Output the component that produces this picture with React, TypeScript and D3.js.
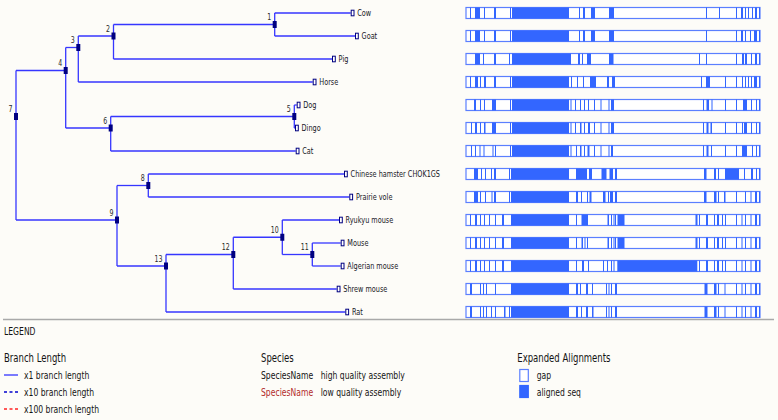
import React from 'react';
import * as d3 from 'd3';

// ---------- DATA ----------
// tree edges: [nodeId, parentId, branchLength]; internal nodes are "n#" (the number shown)
const treeEdges: [string, string | null, number][] = [
  ['n7', null, 0],
  ['n4', 'n7', 49.7],
  ['n3', 'n4', 12.6],
  ['n2', 'n3', 35.2],
  ['n1', 'n2', 161.2],
  ['Cow', 'n1', 76],
  ['Goat', 'n1', 80.3],
  ['Pig', 'n2', 218.5],
  ['Horse', 'n3', 234.4],
  ['n6', 'n4', 45],
  ['n5', 'n6', 183.6],
  ['Dog', 'n5', 2.4],
  ['Dingo', 'n5', 0.7],
  ['Cat', 'n6', 185],
  ['n9', 'n7', 101],
  ['n8', 'n9', 31.3],
  ['Chinese hamster CHOK1GS', 'n8', 195.7],
  ['Prairie vole', 'n8', 201],
  ['n13', 'n9', 49],
  ['n12', 'n13', 67.3],
  ['n10', 'n12', 49],
  ['Ryukyu mouse', 'n10', 56.7],
  ['n11', 'n10', 30],
  ['Mouse', 'n11', 28.4],
  ['Algerian mouse', 'n11', 28.4],
  ['Shrew mouse', 'n12', 103.4],
  ['Rat', 'n13', 179.3],
];

// aligned (filled) segments per species, in alignment columns 0..294, leaf order
const alignedSegments: number[][][] = [
  // Cow
  [[4,5],[9,14],[18,19],[28,30],[44,45],[46,103],[113,114],[117,119],[125,129],[143,148],[240,241],[253,254],[270,271],[275,277],[279,280],[282,283],[286,287],[289,291],[293,294]],
  // Goat
  [[4,5],[9,14],[18,19],[28,30],[44,45],[46,103],[113,114],[117,119],[125,129],[143,148],[240,241],[270,271],[275,277],[279,280],[284,285],[288,291],[293,294]],
  // Pig
  [[9,14],[17,18],[28,30],[43,44],[46,105],[112,114],[116,117],[121,125],[143,147.5],[233,234],[240,241],[270,271],[276,278],[279,281],[285,286],[289,291],[293,294]],
  // Horse
  [[4,5],[9,12],[14,15],[18,20],[28,30],[44,45],[46,103],[105,106],[111,112],[117,118],[124,130],[141,143],[146,149],[235,236],[240,244],[259,260],[270,271],[276,277],[279,280],[282,283],[285,286],[288,291],[293,294]],
  // Dog
  [[8,10],[14,15],[18,19],[26,30],[44,45],[46,103],[104.5,105.5],[109,110],[114,115],[118,119],[122,123],[128,129],[134.5,135.5],[142.5,143.5],[145,148],[237,238],[240.5,243],[245.5,246.5],[259,260],[270,271],[277,281],[285,286],[290,291],[293,294]],
  // Dingo
  [[5,6],[9,11],[14,15],[18,19.5],[26,30],[44,45],[46,103],[104.5,105.5],[109,110],[114,115.5],[118,119],[122,124],[128,129],[134.5,135.5],[142.5,143.5],[145,148],[237,238],[240.5,242.5],[244.5,246],[259,260],[270,271],[276,277],[278,281],[285,286],[290,291],[293,294]],
  // Cat
  [[5,6],[9,10],[13.5,14.5],[17.5,18.5],[26.5,27.5],[29,30],[44,45],[46,103],[104.5,105.5],[110,111],[114,115.5],[118,119],[121.5,123.5],[128,129],[134.5,135.5],[142.5,143.5],[145,147],[237,238],[240.5,242.5],[245,246],[259,260],[270,271],[276,281],[286,287],[290,291],[293,294]],
  // Chinese hamster CHOK1GS
  [[8,12],[15,16],[19,20],[25,26],[28,30],[43,44],[45,103],[110,121],[123,126],[135.5,140.5],[143.5,147],[149,151],[238,240.5],[248,250],[252,253],[259,273],[278,279],[285,287],[290,291],[293,294]],
  // Prairie vole
  [[8,12],[14,15],[19,20],[25.5,26.5],[28,30],[43,44],[45,103],[110,112],[115,116],[121,122],[123.5,125.5],[137,139.5],[142,143],[144,147],[149,151],[238,240.5],[248,250.5],[252,253],[258,259.5],[270,271],[279,280],[284.5,285.5],[289,291],[293,294]],
  // Ryukyu mouse
  [[4,5],[9,11],[14,15],[18,19],[23,24],[29,30],[36,38],[45,103],[110,111],[115.5,122],[141.5,143],[145,146],[147.5,148.5],[149,150],[151.5,158.5],[229.5,231.5],[233,234],[240,242],[248,249],[251,253],[256,257],[259,260],[270,271],[275.5,276.5],[279,280],[284.5,285.5],[289,291],[293,294]],
  // Mouse
  [[4,5],[9,11],[14,15],[18,19],[23,24],[29,30],[36,38],[45,103],[110,111],[115.5,117],[118.5,119.5],[121,122],[141.5,143],[145,146],[147.5,148.5],[149,150],[151.5,158.5],[229.5,231.5],[233,234],[240,242],[248,249],[251,253],[256,257],[259,260],[270,271],[275.5,276.5],[279,280],[284.5,285.5],[289,291],[293,294]],
  // Algerian mouse
  [[4,5],[9,11],[14,15],[18,19],[23,24],[29,30],[36,38],[45,103],[110,111],[116,118],[122,123],[137,138],[141,142],[145,146],[147.5,148.5],[151.3,231.3],[233,234],[240,242],[248,249],[251,253],[256,257],[259,260],[270,271],[275.5,276.5],[279,280],[284.5,285.5],[289,291],[293,294]],
  // Shrew mouse
  [[4,6],[14,15],[17,18],[20,21],[29,30],[45,103],[110,112],[114,115],[120,122],[126,127],[140,141],[142.5,143.5],[145,146],[149,151],[238.5,241.5],[248,250.5],[252,253],[258.5,259.5],[270,271],[275.5,276.5],[279,280],[284.5,285.5],[289,291],[293,294]],
  // Rat
  [[4,6],[14,15],[17,18],[20,21],[25,26],[29,30],[38,39.5],[43,44],[45,103],[110,112],[115,116],[120,122],[126,127.5],[140,141],[142.5,143.5],[145,146],[149,151],[238.5,241.5],[248,250.5],[252,253],[258.5,259.5],[270,271],[275.5,276.5],[279,280],[284.5,285.5],[289,291],[293,294]],
];

const branchLegend = [
  { label: 'x1 branch length', color: '#3333ff', dash: '' },
  { label: 'x10 branch length', color: '#0000cc', dash: '3,2.5' },
  { label: 'x100 branch length', color: '#ff2222', dash: '3,2.5' },
];
const speciesLegend = [
  { name: 'SpeciesName', color: '#111111', label: 'high quality assembly' },
  { name: 'SpeciesName', color: '#b22a2a', label: 'low quality assembly' },
];
const alignLegend = [
  { label: 'gap', filled: false },
  { label: 'aligned seq', filled: true },
];

// ---------- STYLE ----------
const W = 778, H = 420;
const BG = '#fdfcf8';
const FONT = 'DejaVu Sans';
const BRANCH = '#3636ff';
const NAVY = '#000080';
const ALIGN_FILL = '#3366ff';
const ALIGN_STROKE = '#5b7fff';
const TEXT = '#141414';

const T = ({ x, y, size, anchor = 'start', fill = TEXT, sx = 0.71, children }: any) => (
  <text transform={`translate(${x},${y}) scale(${sx},1)`} fontSize={size} textAnchor={anchor} fill={fill} fontFamily={FONT}>{children}</text>
);

export default function App() {
  const root: any = d3.stratify<[string, string | null, number]>()
    .id(d => d[0])
    .parentId(d => d[1])(treeEdges as any);
  root.eachBefore((n: any) => { n.dist = (n.parent ? n.parent.dist : 0) + n.data[2]; });
  const leaves = root.leaves();
  const yRow = d3.scaleLinear().domain([0, leaves.length - 1]).range([13, 312]);
  leaves.forEach((l: any, i: number) => { l.yy = yRow(i); });
  root.eachAfter((n: any) => {
    if (n.children) {
      const first = n.leaves()[0];
      n.yy = (first.yy + n.children[n.children.length - 1].yy) / 2;
    }
  });
  const xTree = d3.scaleLinear().domain([0, 340]).range([16, 356]);
  const xAlign = d3.scaleLinear().domain([0, 294]).range([466, 760]);

  const nodes = root.descendants();
  const internal = nodes.filter((n: any) => n.children);
  const barH = 11;

  return (
    <div style={{ position: 'absolute', left: 0, top: 0 }}>
      <svg width={W} height={H} style={{ display: 'block' }}>
        <rect x={0} y={0} width={W} height={H} fill={BG} />
        {/* branches */}
        <g stroke={BRANCH} strokeWidth={1.3} fill="none">
          {nodes.filter((n: any) => n.parent).map((n: any) => (
            <line key={'h' + n.id} x1={xTree(n.parent.dist)} x2={xTree(n.dist)} y1={n.yy} y2={n.yy} />
          ))}
          {internal.map((n: any) => (
            <line key={'v' + n.id} x1={xTree(n.dist)} x2={xTree(n.dist)} y1={n.children[0].yy} y2={n.children[n.children.length - 1].yy} />
          ))}
        </g>
        {/* internal node markers + numbers */}
        {internal.map((n: any) => (
          <g key={'m' + n.id}>
            <rect x={xTree(n.dist) - 2} y={n.yy - 3.5} width={4} height={7} fill={NAVY} />
            <T x={xTree(n.dist) - 3.5} y={n.yy - 4.5} size={9.5} sx={0.66} anchor="end" fill="#2a2a2a">{n.id.slice(1)}</T>
          </g>
        ))}
        {/* leaves */}
        {leaves.map((l: any) => (
          <g key={'l' + l.id}>
            <rect x={xTree(l.dist) + 0.5} y={l.yy - 2.8} width={2.8} height={5.6} fill="#fff" stroke={NAVY} strokeWidth={1} />
            <T x={xTree(l.dist) + 6.6} y={l.yy + 3.4} size={9.6} sx={0.68} fill="#161626">{l.id}</T>
          </g>
        ))}
        {/* alignment bars */}
        {leaves.map((l: any, i: number) => (
          <g key={'a' + l.id}>
            <rect x={xAlign(0)} y={l.yy - barH / 2} width={xAlign(294) - xAlign(0)} height={barH} fill="#fff" stroke={ALIGN_STROKE} strokeWidth={1.2} />
            {alignedSegments[i].map((s, j) => (
              <rect key={j} x={xAlign(s[0])} y={l.yy - barH / 2} width={xAlign(s[1]) - xAlign(s[0])} height={barH} fill={ALIGN_FILL} />
            ))}
          </g>
        ))}
        {/* separator */}
        <line x1={3} x2={774} y1={319.5} y2={319.5} stroke="#a9a9a9" strokeWidth={1.5} />
        {/* legend */}
        <T x={4} y={335} size={10.8}>LEGEND</T>
        <T x={4} y={361.5} size={12}>Branch Length</T>
        {branchLegend.map((b, i) => (
          <g key={b.label}>
            <line x1={4} x2={18} y1={375 + i * 17} y2={375 + i * 17} stroke={b.color} strokeWidth={1.3} strokeDasharray={b.dash || undefined} />
            <T x={24} y={379 + i * 17} size={10.8}>{b.label}</T>
          </g>
        ))}
        <T x={261} y={361.5} size={12}>Species</T>
        {speciesLegend.map((s, i) => (
          <g key={s.label}>
            <T x={261} y={379 + i * 17} size={10.8} fill={s.color}>{s.name}</T>
            <T x={320.7} y={379 + i * 17} size={10.8}>{s.label}</T>
          </g>
        ))}
        <T x={517.3} y={361.5} size={12}>Expanded Alignments</T>
        {alignLegend.map((a, i) => (
          <g key={a.label}>
            <rect x={519.8} y={369.5 + i * 16} width={8.5} height={12} fill={a.filled ? ALIGN_FILL : '#fff'} stroke={a.filled ? ALIGN_FILL : ALIGN_STROKE} strokeWidth={1.2} />
            <T x={536.7} y={379 + i * 17} size={10.8}>{a.label}</T>
          </g>
        ))}
      </svg>
    </div>
  );
}
